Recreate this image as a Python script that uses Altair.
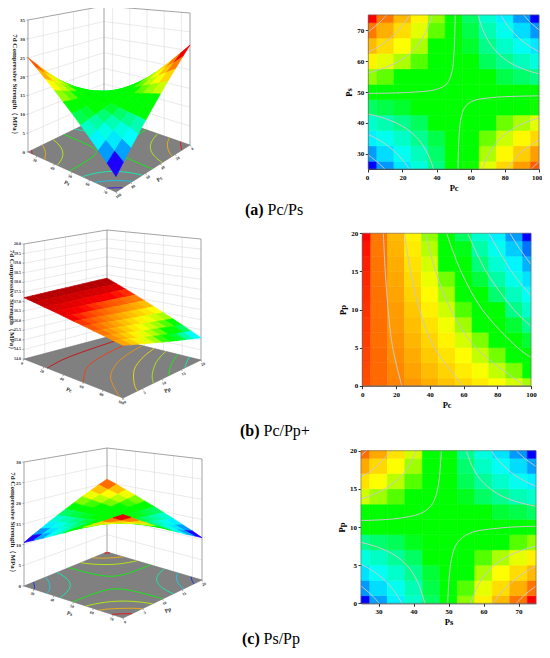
import math
import altair as alt
import pandas as pd

FONT = "Liberation Serif"
W, H = 534, 642

# ---------------- data ----------------
# (a) Pc / Ps  -- rows: Ps 25 -> 75, cols: Pc 0 -> 100
PC_A = [0, 10, 20, 30, 40, 50, 60, 70, 80, 90, 100]
PS_A = [25, 30, 35, 40, 45, 50, 55, 60, 65, 70, 75]
Z_A = [
    [3.5, 5.7, 7.8, 10.0, 12.1, 14.3, 16.4, 18.6, 20.7, 22.9, 25.0],
    [5.8, 7.5, 9.2, 10.9, 12.6, 14.3, 16.0, 17.7, 19.4, 21.1, 22.9],
    [8.1, 9.4, 10.6, 11.9, 13.1, 14.4, 15.7, 16.9, 18.2, 19.4, 20.7],
    [10.4, 11.2, 12.0, 12.8, 13.7, 14.5, 15.3, 16.1, 16.9, 17.7, 18.6],
    [12.7, 13.1, 13.4, 13.8, 14.2, 14.6, 14.9, 15.3, 15.7, 16.0, 16.4],
    [15.0, 14.9, 14.9, 14.8, 14.7, 14.6, 14.6, 14.5, 14.4, 14.3, 14.3],
    [17.3, 16.8, 16.3, 15.7, 15.2, 14.7, 14.2, 13.7, 13.1, 12.6, 12.1],
    [19.6, 18.6, 17.7, 16.7, 15.7, 14.8, 13.8, 12.8, 11.9, 10.9, 10.0],
    [21.9, 20.5, 19.1, 17.7, 16.3, 14.9, 13.4, 12.0, 10.6, 9.2, 7.8],
    [24.2, 22.3, 20.5, 18.6, 16.8, 14.9, 13.1, 11.2, 9.4, 7.5, 5.7],
    [26.5, 24.2, 21.9, 19.6, 17.3, 15.0, 12.7, 10.4, 8.1, 5.8, 3.5],
]
# contour lines of (a): (level, [(Pc, Ps), ...])
LINES_A = [
    (11.72, [(0, 42.87), (10, 41.36), (20, 38.90), (28, 35.44), (33, 31.77), (36, 28.44), (38.24, 25)]),
    (8.65, [(0, 36.2), (8, 33.83), (15, 30.90), (20, 28.02), (23.96, 25)]),
    (5.58, [(0, 29.52), (5, 27.42), (9.68, 25)]),
    (11.72, [(64.27, 75), (67, 70.39), (72, 65.16), (80, 60.64), (90, 57.64), (100, 55.89)]),
    (8.65, [(77.62, 75), (82, 71.26), (90, 66.65), (100, 63.03)]),
    (5.58, [(90.97, 75), (95, 72.59), (100, 70.17)]),
    (14.79, [(0, 49.55), (25, 49.91), (40, 50.87), (46, 52.67), (49, 56.6), (50.2, 62.6), (50.92, 75)]),
    (17.86, [(0, 56.22), (10, 57.92), (20, 60.68), (28, 64.57), (33, 68.69), (37.56, 75)]),
    (20.93, [(0, 62.9), (8, 65.41), (15, 68.51), (20, 71.56), (24.21, 75)]),
    (24.0, [(0, 69.57), (5, 71.75), (10.86, 75)]),
    (14.79, [(52.52, 25), (53.2, 35.9), (54.5, 42.04), (57, 45.39), (62, 47.22), (75, 48.30), (100, 48.75)]),
    (17.86, [(66.8, 25), (70, 29.23), (75, 33.50), (82, 37.12), (90, 39.63), (100, 41.6)]),
    (20.93, [(81.08, 25), (85, 27.80), (90, 30.63), (100, 34.46)]),
    (24.0, [(95.36, 25), (97.5, 26.13), (100, 27.32)]),
]
# (b) Pc / Pp+ -- rows: Pp 0 -> 20, cols: Pc 0 -> 100
PC_B = [0, 10, 20, 30, 40, 50, 60, 70, 80, 90, 100]
PP_B = [0, 2, 4, 6, 8, 10, 12, 14, 16, 18, 20]
Z_B = [
    [17.20, 17.13, 17.05, 16.98, 16.90, 16.82, 16.75, 16.67, 16.60, 16.52, 16.45],
    [17.21, 17.12, 17.03, 16.94, 16.85, 16.76, 16.67, 16.58, 16.49, 16.40, 16.31],
    [17.22, 17.12, 17.01, 16.91, 16.80, 16.70, 16.60, 16.49, 16.39, 16.28, 16.18],
    [17.23, 17.11, 16.99, 16.87, 16.76, 16.64, 16.52, 16.40, 16.28, 16.16, 16.04],
    [17.24, 17.11, 16.97, 16.84, 16.71, 16.57, 16.44, 16.31, 16.17, 16.04, 15.91],
    [17.25, 17.10, 16.96, 16.81, 16.66, 16.51, 16.36, 16.22, 16.07, 15.92, 15.77],
    [17.26, 17.10, 16.94, 16.77, 16.61, 16.45, 16.29, 16.13, 15.96, 15.80, 15.64],
    [17.27, 17.09, 16.92, 16.74, 16.56, 16.39, 16.21, 16.03, 15.86, 15.68, 15.50],
    [17.28, 17.09, 16.90, 16.71, 16.52, 16.32, 16.13, 15.94, 15.75, 15.56, 15.37],
    [17.29, 17.08, 16.88, 16.67, 16.47, 16.26, 16.06, 15.85, 15.65, 15.44, 15.23],
    [17.30, 17.08, 16.86, 16.64, 16.42, 16.20, 15.98, 15.76, 15.54, 15.32, 15.10],
]
LINES_B = [
    (17.025, [(23.4, 0), (18, 5), (15.3, 10), (13.6, 15), (12.5, 20)]),
    (16.75, [(59.9, 0), (42.7, 5), (33.9, 10), (28.6, 15), (25, 20)]),
    (16.475, [(96.4, 0), (67.3, 5), (52.5, 10), (43.5, 15), (37.5, 20)]),
    (16.2, [(100, 3.7), (92, 5), (71.1, 10), (58.5, 15), (50, 20)]),
    (15.925, [(100, 7.8), (89.8, 10), (73.4, 15), (62.5, 20)]),
    (15.65, [(100, 11.8), (95.4, 13), (88.4, 15), (75, 20)]),
    (15.375, [(100, 15.9), (93.2, 18), (87.5, 20)]),
]
# (c) Ps / Pp -- rows: Pp 0 -> 20, cols: Ps 25 -> 75
PS_C = [25, 30, 35, 40, 45, 50, 55, 60, 65, 70, 75]
PP_C = [0, 2, 4, 6, 8, 10, 12, 14, 16, 18, 20]
Z_C = [
    [10.5, 11.7, 12.8, 14.0, 15.1, 16.3, 17.4, 18.6, 19.7, 20.9, 22.0],
    [11.6, 12.5, 13.4, 14.3, 15.3, 16.2, 17.1, 18.1, 19.0, 19.9, 20.9],
    [12.6, 13.3, 14.0, 14.7, 15.4, 16.2, 16.9, 17.6, 18.3, 19.0, 19.7],
    [13.7, 14.1, 14.6, 15.1, 15.6, 16.1, 16.6, 17.1, 17.6, 18.1, 18.6],
    [14.7, 15.0, 15.2, 15.5, 15.8, 16.1, 16.3, 16.6, 16.9, 17.1, 17.4],
    [15.75, 15.80, 15.85, 15.90, 15.95, 16.00, 16.05, 16.10, 16.15, 16.20, 16.25],
    [16.8, 16.6, 16.5, 16.3, 16.1, 16.0, 15.8, 15.6, 15.4, 15.3, 15.1],
    [17.9, 17.5, 17.1, 16.7, 16.3, 15.9, 15.5, 15.1, 14.7, 14.3, 14.0],
    [18.9, 18.3, 17.7, 17.1, 16.5, 15.9, 15.2, 14.6, 14.0, 13.4, 12.8],
    [20.0, 19.1, 18.3, 17.5, 16.6, 15.8, 15.0, 14.1, 13.3, 12.5, 11.7],
    [21.0, 20.0, 18.9, 17.9, 16.8, 15.8, 14.7, 13.7, 12.6, 11.6, 10.5],
]
LINES_C = [
    (11.7, [(25, 2.27), (27, 1.52), (28.5, 0.87), (30.2, 0)]),
    (13.2, [(25, 5.12), (28, 4.36), (31, 3.34), (34, 1.91), (36.7, 0)]),
    (14.7, [(25, 7.98), (30, 7.32), (35, 6.20), (39, 4.48), (41.5, 2.46), (43.24, 0)]),
    (14.7, [(55.09, 20), (57, 17.75), (60, 15.77), (65, 14.12), (70, 13.25), (75, 12.71)]),
    (13.2, [(62.23, 20), (65, 18.36), (70, 16.48), (75, 15.33)]),
    (11.7, [(69.37, 20), (72, 18.91), (75, 17.94)]),
    (16.2, [(25, 10.83), (35, 11.10), (42, 11.77), (45, 12.78), (46.5, 14.24), (47.4, 16.52), (47.95, 20)]),
    (17.7, [(25, 13.68), (30, 14.54), (35, 16.01), (38, 17.54), (40.81, 20)]),
    (19.2, [(25, 16.54), (29, 17.76), (33.66, 20)]),
    (20.7, [(25, 19.39), (26.53, 20)]),
    (16.2, [(49.77, 0), (50.2, 3.45), (51, 6.12), (52.5, 7.92), (56, 9.17), (65, 9.88), (75, 10.10)]),
    (17.7, [(56.3, 0), (58, 1.96), (61, 4.06), (65, 5.65), (70, 6.79), (75, 7.49)]),
    (19.2, [(62.82, 0), (65, 1.41), (68, 2.72), (71.5, 3.97), (75, 4.88)]),
    (20.7, [(69.34, 0), (72, 1.20), (75, 2.27)]),
]

Z_TITLE = "7d Compressive Strength（MPa）"
# colour maps (stop position, colour)
MAP2D = [(0, "#0000ff"), (0.22, "#00ffff"), (0.44, "#00ff00"), (0.56, "#00ff00"), (0.68, "#ffff00"), (1, "#ff0000")]
MAP3D = [(0, "#7a00ff"), (0.1, "#0000ff"), (0.27, "#00ffff"), (0.45, "#00ff00"), (0.55, "#00ff00"),
         (0.68, "#ffff00"), (0.88, "#ff0000"), (1, "#a00000")]

# ---------------- layout (page pixels) ----------------
PANELS = [
    dict(key="a", X=PC_A, Y=PS_A, Z=Z_A, LINES=LINES_A, xname="Pc", yname="Ps",
         xticks=[0, 20, 40, 60, 80, 100], yticks=[30, 40, 50, 60, 70],
         a_src="x", a_rev=False, b_src="y", b_rev=False, gamma=1.0,
         zr=(0, 35), zticks=[0, 5, 10, 15, 20, 25, 30, 35], zfmt="{:.0f}", zfs=5, ztx=15,
         geo=dict(B=(104, 115), L=(28, 152), R=(190, 145), F=(116, 192), hB=109, hL=132, hR=132),
         box=(368.3, 539, 169, 15), flush=True,
         cap=("(a)", "Pc/Ps", 245, 267.6, 215)),
    dict(key="b", X=PC_B, Y=PP_B, Z=Z_B, LINES=LINES_B, xname="Pc", yname="Pp",
         xticks=[0, 20, 40, 60, 80, 100], yticks=[0, 5, 10, 15, 20],
         a_src="y", a_rev=True, b_src="x", b_rev=False, gamma=0.5,
         zr=(14, 20), zticks=[14 + 0.5 * i for i in range(13)], zfmt="{:.1f}", zfs=4, ztx=12,
         geo=dict(B=(107, 337), L=(24, 359), R=(201, 360), F=(123, 398), hB=107, hL=115, hR=121),
         box=(362.3, 531, 385.7, 233.3), flush=False,
         cap=("(b)", "Pc/Pp+", 240, 263.5, 436)),
    dict(key="c", X=PS_C, Y=PP_C, Z=Z_C, LINES=LINES_C, xname="Ps", yname="Pp",
         xticks=[30, 40, 50, 60, 70], yticks=[0, 5, 10, 15, 20],
         a_src="y", a_rev=True, b_src="x", b_rev=False, gamma=1.0,
         zr=(0, 30), zticks=[0, 5, 10, 15, 20, 25, 30], zfmt="{:.0f}", zfs=5, ztx=13,
         geo=dict(B=(107, 552), L=(24, 586), R=(202, 580), F=(123, 618), hB=104, hL=124, hR=121),
         box=(361, 536, 603.3, 450.7), flush=False,
         cap=("(c)", "Ps/Pp", 242, 263.5, 644)),
]

PX = alt.Scale(domain=[8, 8 + W], range=[0, W])
PY = alt.Scale(domain=[8, 8 + H], range=[0, H])


def cmap_scale(lo, hi, cmap):
    return alt.Scale(domain=[lo + f * (hi - lo) for f, _ in cmap], range=[c for _, c in cmap])


def bil(v, a, b):
    vb, vl, vr, vf = v
    return (1 - a) * (1 - b) * vb + a * (1 - b) * vl + (1 - a) * b * vr + a * b * vf


def project(p, a, b, z):
    g = p["geo"]
    hF = g["hL"] + g["hR"] - g["hB"]
    x = bil((g["B"][0], g["L"][0], g["R"][0], g["F"][0]), a, b)
    yf = bil((g["B"][1], g["L"][1], g["R"][1], g["F"][1]), a, b)
    h = bil((g["hB"], g["hL"], g["hR"], hF), a, b)
    z0, z1 = p["zr"]
    return x, yf - h * (z - z0) / (z1 - z0)


def var_info(p, which):
    src = p[which + "_src"]
    rev = p[which + "_rev"]
    vals = p["X"] if src == "x" else p["Y"]
    ticks = p["xticks"] if src == "x" else p["yticks"]
    name = p["xname"] if src == "x" else p["yname"]
    return vals[0], vals[-1], rev, ticks, name


def frac(v, lo, hi, rev):
    f = (v - lo) / (hi - lo)
    return 1 - f if rev else f


def ab(p, xv, yv):
    vals = {"x": xv, "y": yv}
    alo, ahi, arev, _, _ = var_info(p, "a")
    blo, bhi, brev, _, _ = var_info(p, "b")
    return (frac(vals[p["a_src"]], alo, ahi, arev),
            frac(vals[p["b_src"]], blo, bhi, brev))


surf_rows, floor_rows, wall_rows, edge_rows = [], [], [], []
ztick_rows, ftick_rows, ztitle_rows, fline_rows = [], [], [], []


def seg(lst, lid, pts):
    for k, (x, y) in enumerate(pts):
        lst.append(dict(lid=lid, k=k, x=x, y=y))


for p in PANELS:
    X, Y, Z, key = p["X"], p["Y"], p["Z"], p["key"]
    z0, z1 = p["zr"]
    zmin = min(min(r) for r in Z)
    zmax = max(max(r) for r in Z)
    gam = p["gamma"]
    # surface quads, painted back (B) to front (F)
    quads = []
    for j in range(len(Y) - 1):
        for i in range(len(X) - 1):
            pts, zs, depth = [], [], 0.0
            for ii, jj in [(i, j), (i + 1, j), (i + 1, j + 1), (i, j + 1)]:
                a, b = ab(p, X[ii], Y[jj])
                pts.append(project(p, a, b, Z[jj][ii]))
                zs.append(Z[jj][ii])
                depth += a + b
            quads.append((depth, pts, sum(zs) / 4))
    quads.sort(key=lambda q: q[0])
    for r, (d, pts, zc) in enumerate(quads):
        t = ((zc - zmin) / (zmax - zmin)) ** gam
        for k, (x, y) in enumerate(pts + [pts[0]]):
            surf_rows.append(dict(qid=f"{key}{r:04d}", k=k, x=x, y=y, t=t))
    # floor and its contour lines
    seg(floor_rows, key + "floor",
        [project(p, 0, 0, z0), project(p, 1, 0, z0), project(p, 1, 1, z0), project(p, 0, 1, z0), project(p, 0, 0, z0)])
    for n, (lev, pts) in enumerate(p["LINES"]):
        t = ((lev - zmin) / (zmax - zmin)) ** gam
        for k, (xv, yv) in enumerate(pts):
            a, b = ab(p, xv, yv)
            x, y = project(p, a, b, z0)
            fline_rows.append(dict(lid=f"{key}{n:02d}", k=k, x=x, y=y, t=t))
    # walls
    alo, ahi, arev, aticks, aname = var_info(p, "a")
    blo, bhi, brev, bticks, bname = var_info(p, "b")
    for n, tv in enumerate(aticks):
        f = frac(tv, alo, ahi, arev)
        if 0.001 < f < 0.999:
            seg(wall_rows, f"{key}La{n}", [project(p, f, 0, z0), project(p, f, 0, z1)])
    for n, tv in enumerate(bticks):
        f = frac(tv, blo, bhi, brev)
        if 0.001 < f < 0.999:
            seg(wall_rows, f"{key}Rb{n}", [project(p, 0, f, z0), project(p, 0, f, z1)])
    for n, z in enumerate(p["zticks"]):
        if z0 < z < z1:
            seg(wall_rows, f"{key}Lz{n}", [project(p, 0, 0, z), project(p, 1, 0, z)])
            seg(wall_rows, f"{key}Rz{n}", [project(p, 0, 0, z), project(p, 0, 1, z)])
    seg(edge_rows, key + "e1", [project(p, 1, 0, z0), project(p, 1, 0, z1), project(p, 0, 0, z1),
                                project(p, 0, 1, z1), project(p, 0, 1, z0)])
    seg(edge_rows, key + "e2", [project(p, 0, 0, z0), project(p, 0, 0, z1)])
    # z tick labels on the left edge
    for z in p["zticks"]:
        x, y = project(p, 1, 0, z)
        ztick_rows.append(dict(x=x - 3, y=y, label=p["zfmt"].format(z), size=p["zfs"]))
        seg(edge_rows, f"{key}zt{z}", [(x - 1.5, y), (x, y)])
    g = p["geo"]
    ztitle_rows.append(dict(x=p["ztx"], y=g["L"][1] - g["hL"] / 2, label=Z_TITLE))
    # floor tick labels along L-F (b variable) and F-R (a variable)
    Lp, Fp, Rp = project(p, 1, 0, z0), project(p, 1, 1, z0), project(p, 0, 1, z0)
    for (P0, P1, ticks, lo, hi, rev, name, along) in [
        (Lp, Fp, bticks, blo, bhi, brev, bname, "b"),
        (Fp, Rp, aticks, alo, ahi, arev, aname, "a"),
    ]:
        dx, dy = P1[0] - P0[0], P1[1] - P0[1]
        ln = math.hypot(dx, dy)
        nx, ny = -dy / ln, dx / ln
        ang = math.degrees(math.atan2(dy, dx)) % 360
        for tv in ticks:
            f = frac(tv, lo, hi, rev)
            if along == "b":
                x, y = project(p, 1, f, z0)
            else:
                x, y = project(p, f, 1, z0)
            ftick_rows.append(dict(x=x + nx * 5, y=y + ny * 5, label=str(tv), ang=ang, size=4))
            seg(edge_rows, f"{key}{along}t{tv}", [(x, y), (x + nx * 1.8, y + ny * 1.8)])
        mx, my = (P0[0] + P1[0]) / 2, (P0[1] + P1[1]) / 2
        ftick_rows.append(dict(x=mx + nx * 12, y=my + ny * 12, label=name, ang=ang, size=5.5))


def pix():
    return dict(x=alt.X("x:Q", scale=PX, axis=None), y=alt.Y("y:Q", scale=PY, axis=None))


sc3 = cmap_scale(0, 1, MAP3D)
layers = []
layers.append(alt.Chart(pd.DataFrame(wall_rows)).mark_line(stroke="#dcdcdc", strokeWidth=0.6).encode(
    **pix(), detail="lid:N", order="k:Q"))
layers.append(alt.Chart(pd.DataFrame(floor_rows)).mark_line(fill="#808080", stroke="#6e6e6e", strokeWidth=0.6).encode(
    **pix(), detail="lid:N", order="k:Q"))
layers.append(alt.Chart(pd.DataFrame(fline_rows)).mark_line(strokeWidth=0.8, interpolate="catmull-rom").encode(
    **pix(), detail="lid:N", order="k:Q", stroke=alt.Stroke("t:Q", scale=sc3, legend=None)))
layers.append(alt.Chart(pd.DataFrame(edge_rows)).mark_line(stroke="#8c8c8c", strokeWidth=0.8).encode(
    **pix(), detail="lid:N", order="k:Q"))
layers.append(alt.Chart(pd.DataFrame(surf_rows)).mark_line(strokeWidth=0.7, strokeJoin="round").encode(
    **pix(), detail="qid:N", order="k:Q",
    fill=alt.Fill("t:Q", scale=sc3, legend=None),
    stroke=alt.Stroke("t:Q", scale=sc3, legend=None)))
layers.append(alt.Chart(pd.DataFrame(ztick_rows)).mark_text(
    align="right", baseline="middle", font=FONT, fontWeight="bold", color="#333333").encode(
    **pix(), text="label:N", size=alt.Size("size:Q", scale=None)))
layers.append(alt.Chart(pd.DataFrame(ztitle_rows)).mark_text(
    align="center", baseline="middle", font=FONT, fontWeight="bold", fontSize=7, color="#222222", angle=90).encode(
    **pix(), text="label:N"))
layers.append(alt.Chart(pd.DataFrame(ftick_rows)).mark_text(
    align="center", baseline="middle", font=FONT, fontWeight="bold", color="#333333").encode(
    **pix(), text="label:N", angle=alt.Angle("ang:Q", scale=None),
    size=alt.Size("size:Q", scale=None)))

AXIS = dict(grid=False, tickSize=3, tickWidth=0.8, domainWidth=0.8, domainColor="black",
            tickColor="black", labelColor="black", titleColor="black", labelFont=FONT,
            labelFontWeight="bold", labelFontSize=7, titleFont=FONT, titleFontWeight="bold",
            titleFontSize=8.5, labelPadding=1.5, titlePadding=3, labelOverlap=False)

for p in PANELS:
    X, Y, Z = p["X"], p["Y"], p["Z"]
    rows = []
    for j, yv in enumerate(Y):
        for i, xv in enumerate(X):
            rows.append(dict(
                x1=X[0] if i == 0 else (X[i - 1] + xv) / 2,
                x2=X[-1] if i == len(X) - 1 else (X[i + 1] + xv) / 2,
                y1=Y[0] if j == 0 else (Y[j - 1] + yv) / 2,
                y2=Y[-1] if j == len(Y) - 1 else (Y[j + 1] + yv) / 2,
                z=Z[j][i]))
    zmin = min(min(r) for r in Z)
    zmax = max(max(r) for r in Z)
    px0, px1, pyb, pyt = p["box"]
    xs = alt.Scale(domain=[X[0], X[-1]], range=[px0 - 8, px1 - 8])
    ys = alt.Scale(domain=[Y[0], Y[-1]], range=[pyb - 8, pyt - 8])
    if p["flush"]:
        xax = alt.Axis(orient="bottom", offset=-(H - (pyb - 8)), values=p["xticks"], title=p["xname"],
                       labelFlush=True, labelFlushOffset=3, **AXIS)
    else:
        xax = alt.Axis(orient="bottom", offset=-(H - (pyb - 8)), values=p["xticks"], title=p["xname"],
                       labelFlush=False, **AXIS)
    yax = alt.Axis(orient="left", offset=-(px0 - 8), values=p["yticks"], title=p["yname"],
                   labelFlush=False, **AXIS)
    col = cmap_scale(zmin, zmax, MAP2D)
    heat = alt.Chart(pd.DataFrame(rows)).mark_rect(strokeWidth=0.5).encode(
        x=alt.X("x1:Q", scale=xs, axis=xax), x2="x2:Q",
        y=alt.Y("y1:Q", scale=ys, axis=yax), y2="y2:Q",
        fill=alt.Fill("z:Q", scale=col, legend=None),
        stroke=alt.Stroke("z:Q", scale=col, legend=None),
    )
    lrows = []
    for n, (lev, pts) in enumerate(p["LINES"]):
        for k, (xv, yv) in enumerate(pts):
            lrows.append(dict(lid=n, k=k, x1=xv, y1=yv))
    lines = alt.Chart(pd.DataFrame(lrows)).mark_line(
        stroke="#c9c9c9", strokeWidth=1.0, interpolate="catmull-rom").encode(
        x=alt.X("x1:Q", scale=xs, axis=xax), y=alt.Y("y1:Q", scale=ys, axis=yax),
        detail="lid:N", order="k:Q")
    frame = alt.Chart(pd.DataFrame({"x1": [X[0]], "x2": [X[-1]], "y1": [Y[0]], "y2": [Y[-1]]})).mark_rect(
        fillOpacity=0, stroke="#666666", strokeWidth=0.6).encode(
        x=alt.X("x1:Q", scale=xs, axis=xax), x2="x2:Q",
        y=alt.Y("y1:Q", scale=ys, axis=yax), y2="y2:Q")
    layers.append(alt.layer(heat, lines, frame).resolve_scale(fill="independent", stroke="independent"))

for p in PANELS:
    lab, rest, xa, xb, yb = p["cap"]
    layers.append(alt.Chart(pd.DataFrame({"t": [lab]})).mark_text(
        align="left", baseline="alphabetic", font=FONT, fontSize=16, fontWeight="bold", color="black").encode(
        text="t:N", x=alt.value(xa - 8), y=alt.value(yb - 8)))
    layers.append(alt.Chart(pd.DataFrame({"t": [rest]})).mark_text(
        align="left", baseline="alphabetic", font=FONT, fontSize=16, color="black").encode(
        text="t:N", x=alt.value(xb - 8), y=alt.value(yb - 8)))

chart = alt.layer(*layers).resolve_scale(
    x="independent", y="independent", fill="independent", stroke="independent", size="independent"
).properties(
    width=W, height=H, padding=0, autosize=alt.AutoSizeParams(type="none")
).configure_view(stroke=None)

chart.save("out.html", embed_options={"renderer": "svg", "actions": False})
